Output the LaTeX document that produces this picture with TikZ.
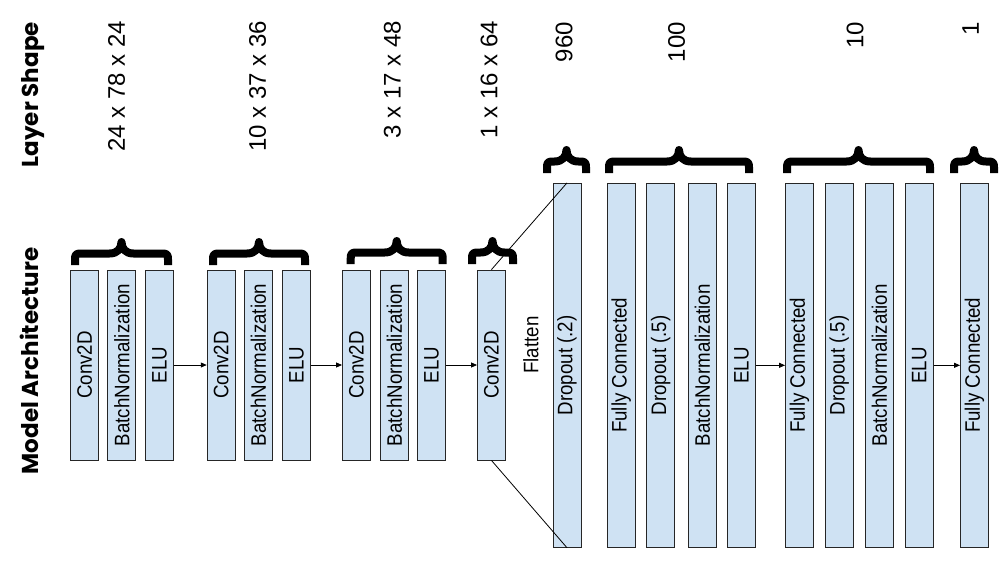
\documentclass[tikz,border=0pt]{standalone}
\usepackage{fontspec}
\usepackage{graphicx}
\setmainfont{Liberation Sans}
\newfontfamily\headfont{Poppins}
\usetikzlibrary{arrows.meta}

\definecolor{layerfill}{HTML}{CFE2F3}
\definecolor{layerline}{HTML}{262626}

% text inside the layer boxes is set a little taller than wide
\newcommand{\boxtext}[1]{\scalebox{1}[1.12]{#1}}

% a thick curly brace opening downwards: left ink edge, right ink edge, bottom
\newcommand{\curlybrace}[3]{%
  \pgfmathsetmacro{\brL}{#1+4}%
  \pgfmathsetmacro{\brR}{#2-4}%
  \pgfmathsetmacro{\brM}{(#1+#2)/2}%
  \pgfmathsetmacro{\brB}{#3-11.5}%
  \pgfmathsetmacro{\brT}{#3-23}%
  \draw[bracestroke]
    (\brL,#3) -- (\brL,\brB+6)
    .. controls (\brL,\brB+1) and (\brL+1,\brB) .. (\brL+6,\brB)
    -- (\brM-12,\brB)
    .. controls (\brM-4,\brB) and (\brM,\brB-5) .. (\brM,\brT)
    .. controls (\brM,\brB-5) and (\brM+4,\brB) .. (\brM+12,\brB)
    -- (\brR-6,\brB)
    .. controls (\brR-1,\brB) and (\brR,\brB+1) .. (\brR,\brB+6)
    -- (\brR,#3);%
}

\tikzset{
  layerbox/.style={rotate=90, draw=layerline, fill=layerfill, line width=0.9pt,
    minimum height=28pt, inner sep=0pt,
    font=\fontsize{18.7}{22}\selectfont},
  shortbox/.style={layerbox, minimum width=190pt},
  tallbox/.style={layerbox, minimum width=364pt},
  shapelabel/.style={rotate=90, anchor=east, inner sep=0pt,
    font=\fontsize{24}{28}\selectfont},
  heading/.style={rotate=90, inner sep=0pt,
    font=\headfont\bfseries\fontsize{23}{27}\selectfont},
  plainlabel/.style={rotate=90, inner sep=0pt,
    font=\fontsize{18.7}{22}\selectfont},
  flow/.style={-{Triangle[length=6pt,width=5pt]}, line width=0.8pt, black},
  fanline/.style={line width=0.8pt, black},
  bracestroke/.style={line width=8pt, line join=round, line cap=butt, black},
}

\begin{document}
\begin{tikzpicture}[x=1pt,y=-1pt]
\useasboundingbox[fill=white] (0,0) rectangle (1008,576);

% headings
\node[heading, anchor=base east] (hshape) at (38,22) {Layer Shape};
\node[heading, anchor=base] (harch) at (38,361) {Model Architecture};

% layer shapes
\node[shapelabel] (s1) at (116.7,21) {24 x 78 x 24};
\node[shapelabel] (s2) at (257.5,21) {10 x 37 x 36};
\node[shapelabel] (s3) at (392.3,21) {3 x 17 x 48};
\node[shapelabel] (s4) at (489,21) {1 x 16 x 64};
\node[shapelabel] (s5) at (564,22) {960};
\node[shapelabel] (s6) at (676.7,22) {100};
\node[shapelabel] (s7) at (855,22) {10};
\node[shapelabel] (s8) at (970.7,22) {1};

% convolutional blocks
\node[shortbox] (c1) at (84.7,365) {\boxtext{Conv2D}};
\node[shortbox] (b1) at (121.8,365) {\boxtext{BatchNormalization}};
\node[shortbox] (e1) at (159.5,365) {\boxtext{ELU}};

\node[shortbox] (c2) at (221.2,365) {\boxtext{Conv2D}};
\node[shortbox] (b2) at (258.3,365) {\boxtext{BatchNormalization}};
\node[shortbox] (e2) at (296.5,365) {\boxtext{ELU}};

\node[shortbox] (c3) at (356.5,365) {\boxtext{Conv2D}};
\node[shortbox] (b3) at (394.3,365) {\boxtext{BatchNormalization}};
\node[shortbox] (e3) at (431.5,365) {\boxtext{ELU}};

\node[shortbox] (c4) at (491.5,365) {\boxtext{Conv2D}};

\node[plainlabel] (flat) at (531,345) {\boxtext{Flatten}};

% dense blocks
\node[tallbox] (d0) at (567,365.3) {\boxtext{Dropout (.2)}};

\node[tallbox] (f1) at (621.3,365.3) {\boxtext{Fully Connected}};
\node[tallbox] (d1) at (660.8,365.3) {\boxtext{Dropout (.5)}};
\node[tallbox] (b4) at (702.5,365.3) {\boxtext{BatchNormalization}};
\node[tallbox] (e4) at (741.5,365.3) {\boxtext{ELU}};

\node[tallbox] (f2) at (799.5,365.3) {\boxtext{Fully Connected}};
\node[tallbox] (d2) at (839.3,365.3) {\boxtext{Dropout (.5)}};
\node[tallbox] (b5) at (879.3,365.3) {\boxtext{BatchNormalization}};
\node[tallbox] (e5) at (919.3,365.3) {\boxtext{ELU}};

\node[tallbox] (f3) at (974.5,365.3) {\boxtext{Fully Connected}};

% flow between blocks
\draw[flow] (e1) -- (c2);
\draw[flow] (e2) -- (c3);
\draw[flow] (e3) -- (c4);
\draw[flow] (e4) -- (f2);
\draw[flow] (e5) -- (f3);

% flatten fan-out (east = top, west = bottom of the rotated boxes)
\draw[fanline] (c4.east) -- (d0.east);
\draw[fanline] (c4.west) -- (d0.west);

% braces over each block
\curlybrace{71}{172}{265}
\curlybrace{209}{309}{265}
\curlybrace{346.7}{446.7}{264}
\curlybrace{468}{517}{264}
\curlybrace{543}{590}{173}
\curlybrace{605}{753}{173}
\curlybrace{783}{934}{173}
\curlybrace{950}{998}{173}
\end{tikzpicture}
\end{document}
